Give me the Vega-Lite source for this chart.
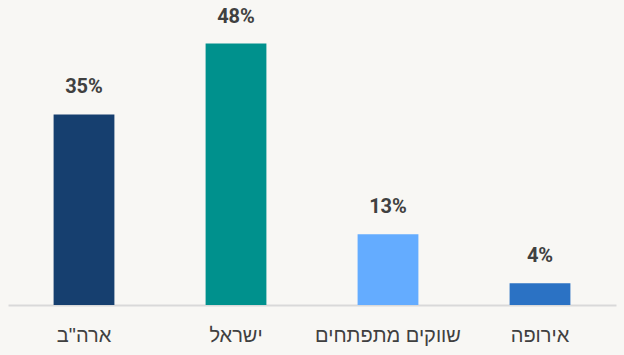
{
  "$schema": "https://vega.github.io/schema/vega-lite/v6.json",
  "autosize": {"type": "none"},
  "width": 608,
  "height": 305,
  "padding": {"left": 8, "top": 0, "right": 8, "bottom": 50},
  "background": "#f8f7f4",
  "config": {"view": {"stroke": null}, "font": "Roboto"},
  "data": {"values": [
    {"region": "ארה\"ב", "value": 35, "color": "#163f6f"},
    {"region": "ישראל", "value": 48, "color": "#00918d"},
    {"region": "שווקים מתפתחים", "value": 13, "color": "#64acff"},
    {"region": "אירופה", "value": 4, "color": "#2b72c4"}
  ]},
  "encoding": {
    "x": {"field": "region", "type": "nominal", "sort": null,
      "scale": {"paddingInner": 0.6, "paddingOuter": 0.3},
      "axis": {"title": null, "labelAngle": 0, "ticks": false, "domain": true, "domainColor": "#d9d9d9", "domainWidth": 2,
        "labelFont": "Liberation Sans", "labelFontSize": 20, "labelColor": "#404040", "labelPadding": 30, "labelBaseline": "middle"}},
    "y": {"field": "value", "type": "quantitative", "scale": {"domain": [0, 56]}, "axis": null}
  },
  "layer": [
    {"mark": {"type": "bar"}, "encoding": {"color": {"field": "color", "type": "nominal", "scale": null}}},
    {"mark": {"type": "text", "baseline": "bottom", "dy": -17, "font": "Roboto", "fontWeight": "bold", "fontSize": 20, "color": "#404040",
      "text": {"expr": "datum.value + '%'"}}}
  ]
}
